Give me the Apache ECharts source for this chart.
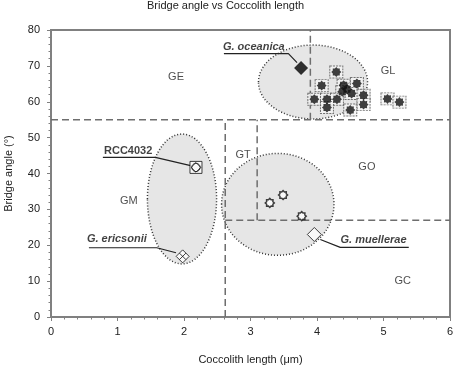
<!DOCTYPE html>
<html>
<head>
<meta charset="utf-8">
<script src="https://cdn.jsdelivr.net/npm/echarts@6.0.0/dist/echarts.min.js"></script>
<style>
  html, body { margin: 0; padding: 0; background: #fff; }
  #chart { width: 454px; height: 368px; }
</style>
</head>
<body>
<div id="chart"></div>
<script>
// values
const glPoints = [
  [4.29, 68.3], [4.07, 64.5], [4.40, 64.6], [4.45, 63.5], [4.60, 65.1],
  [4.38, 62.8], [4.52, 62.3], [4.70, 61.8], [3.96, 60.7], [4.15, 60.7],
  [4.30, 60.7], [4.70, 59.2], [4.15, 58.4], [4.50, 57.7], [5.06, 60.8],
  [5.24, 59.9]
];
const goPoints = [[3.29, 31.8], [3.49, 34.0], [3.77, 28.1]];
const oceanica = [[3.76, 69.4]];
const rcc4032 = [[2.18, 41.7]];
const ericsonii = [[1.98, 16.9]];
const muellerae = [[3.96, 23.0]];

// group ellipses: centre x, centre y, radius x, radius y
const ellipses = [
  [3.94, 65.5, 0.82, 10.3],
  [1.97, 32.9, 0.52, 18.1],
  [3.41, 31.4, 0.845, 14.2]
];

// dashed boundary lines
const boundaries = [
  [[0, 55], [6, 55]],
  [[2.62, 0], [2.62, 55]],
  [[3.9, 55], [3.9, 80]],
  [[2.62, 27], [6, 27]],
  [[3.1, 27], [3.1, 55]]
];

const regionNames = ['GE', 'GL', 'GT', 'GO', 'GM', 'GC'];
const regionPos = [[1.88, 67.0], [5.07, 68.5], [2.89, 45.1], [4.75, 41.9], [1.17, 32.3], [5.29, 10.0]];

const calloutNames = ['G. oceanica', 'RCC4032', 'G. ericsonii', 'G. muellerae'];
const calloutPos = [[3.05, 75.4], [1.16, 46.3], [0.99, 21.8], [4.85, 21.5]];
const calloutLines = [
  [[2.60, 73.4], [3.57, 73.4], [3.70, 70.9]],
  [[0.78, 44.5], [1.57, 44.5], [2.10, 42.2]],
  [[0.57, 19.3], [1.59, 19.3], [1.88, 17.9]],
  [[5.38, 19.4], [4.35, 19.4], [4.05, 21.6]]
];

const font = "Arial, 'Liberation Sans', sans-serif";
const gear = 'path://M20,10L16.93,12.87L17.07,17.07L12.87,16.93L10,20L7.13,16.93L2.93,17.07L3.07,12.87L0,10L3.07,7.13L2.93,2.93L7.13,3.07L10,0L12.87,3.07L17.07,2.93L16.93,7.13Z';
const crossedBox = 'path://M0,0H20V20H0Z M10,2L18,10L10,18L2,10Z M10,3A7,7 0 1 1 9.99,3Z';
const splitDiamond = 'path://M10,0L20,10L10,20L0,10Z M15,5L5,15 M5,5L15,15';

const chart = echarts.init(document.getElementById('chart'));

const axisCommon = {
  type: 'value',
  axisLine: { lineStyle: { color: '#808080', width: 2 } },
  axisTick: { length: 4, lineStyle: { color: '#808080', width: 1 } },
  minorTick: { show: true, splitNumber: 5, length: 2.5, lineStyle: { color: '#808080', width: 1 } },
  splitLine: { show: false },
  nameLocation: 'middle',
  nameTextStyle: { fontFamily: font, fontSize: 11, color: '#222' }
};

chart.setOption({
  animation: false,
  backgroundColor: '#fff',
  title: {
    text: 'Bridge angle vs Coccolith length',
    left: 147,
    top: 0,
    padding: 0,
    textStyle: { fontFamily: font, fontSize: 11, fontWeight: 'normal', color: '#222' }
  },
  grid: {
    left: 51, right: 4, top: 30, bottom: 51,
    outerBoundsMode: 'none',
    show: true, borderColor: '#808080', borderWidth: 2
  },
  xAxis: Object.assign({}, axisCommon, {
    min: 0, max: 6, interval: 1,
    name: 'Coccolith length (\u03bcm)',
    nameGap: 37,
    axisLabel: { fontFamily: font, fontSize: 11, color: '#222', margin: 9 }
  }),
  yAxis: Object.assign({}, axisCommon, {
    min: 0, max: 80, interval: 10,
    name: 'Bridge angle (\u00b0)',
    nameGap: 37,
    axisLabel: { fontFamily: font, fontSize: 11, color: '#222', margin: 11 }
  }),
  series: [
    {
      type: 'custom',
      silent: true,
      z: 1,
      data: ellipses,
      renderItem: function (params, api) {
        const c = api.coord([api.value(0), api.value(1)]);
        const s = api.size([api.value(2), api.value(3)]);
        return {
          type: 'ellipse',
          shape: { cx: c[0], cy: c[1], rx: s[0], ry: s[1] },
          style: { fill: '#e6e6e6', stroke: '#333', lineWidth: 1.5, lineDash: [1, 2] }
        };
      }
    },
    ...boundaries.map(function (seg) {
      return {
        type: 'line', silent: true, z: 2, showSymbol: false, data: seg,
        lineStyle: { color: '#6e6e6e', width: 1.5, type: [7, 4] }
      };
    }),
    ...calloutLines.map(function (seg) {
      return {
        type: 'line', silent: true, z: 3, showSymbol: false, data: seg,
        lineStyle: { color: '#222', width: 1.2 }
      };
    }),
    {
      type: 'scatter', silent: true, z: 4, data: glPoints,
      symbol: 'rect', symbolSize: [13, 12],
      itemStyle: { color: '#f4f4f4', borderColor: '#555', borderWidth: 1, borderType: [2, 1] }
    },
    {
      type: 'scatter', silent: true, z: 5, data: glPoints,
      symbol: gear, symbolSize: 10,
      itemStyle: { color: '#111' }
    },
    {
      type: 'scatter', silent: true, z: 5, data: goPoints,
      symbol: gear, symbolSize: 9,
      itemStyle: { color: '#fff', borderColor: '#111', borderWidth: 1.5 }
    },
    {
      type: 'scatter', silent: true, z: 5, data: oceanica,
      symbol: 'diamond', symbolSize: 14,
      itemStyle: { color: '#000' }
    },
    {
      type: 'scatter', silent: true, z: 5, data: muellerae,
      symbol: 'diamond', symbolSize: 14,
      itemStyle: { color: '#fff', borderColor: '#111', borderWidth: 1 }
    },
    {
      type: 'scatter', silent: true, z: 5, data: rcc4032,
      symbol: crossedBox, symbolSize: 12,
      itemStyle: { color: '#fff', borderColor: '#111', borderWidth: 1 }
    },
    {
      type: 'scatter', silent: true, z: 5, data: ericsonii,
      symbol: splitDiamond, symbolSize: 13,
      itemStyle: { color: '#fff', borderColor: '#111', borderWidth: 1 }
    },
    {
      type: 'scatter', silent: true, z: 6, symbolSize: 1,
      itemStyle: { color: 'rgba(0,0,0,0)' },
      data: regionNames.map(function (n, i) { return { name: n, value: regionPos[i] }; }),
      label: {
        show: true, position: 'inside', formatter: '{b}',
        fontFamily: font, fontSize: 11, color: '#222'
      }
    },
    {
      type: 'scatter', silent: true, z: 6, symbolSize: 1,
      itemStyle: { color: 'rgba(0,0,0,0)' },
      data: calloutNames.map(function (n, i) {
        return { name: n, value: calloutPos[i], label: { fontStyle: n === 'RCC4032' ? 'normal' : 'italic' } };
      }),
      label: {
        show: true, position: 'inside', formatter: '{b}',
        fontFamily: font, fontSize: 11, fontWeight: 'bold', color: '#111'
      }
    }
  ]
});
</script>
</body>
</html>
